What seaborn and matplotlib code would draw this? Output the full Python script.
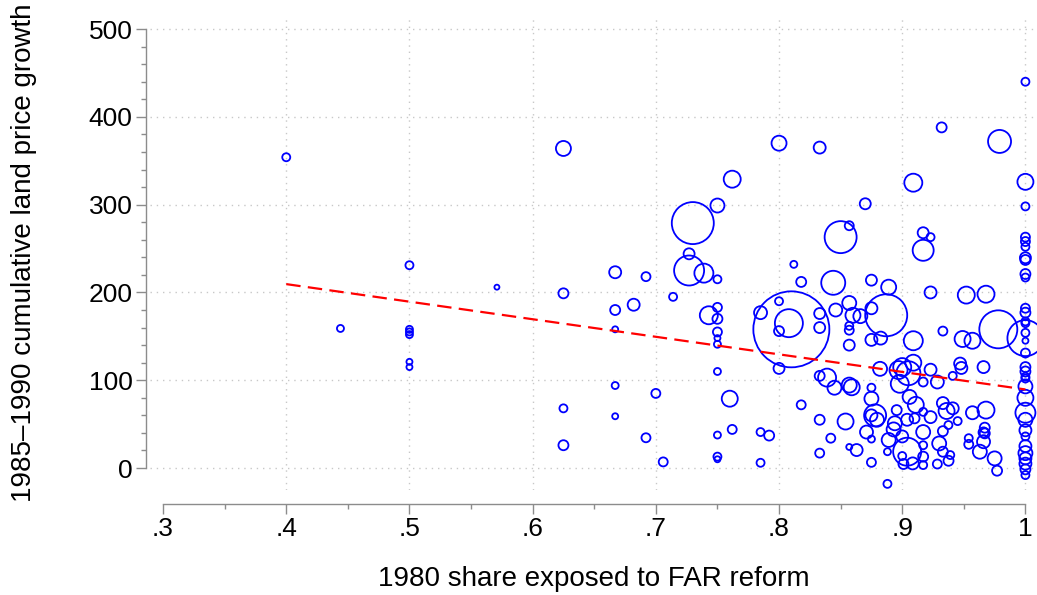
import numpy as np
import pandas as pd
import matplotlib
matplotlib.use("Agg")
import matplotlib.pyplot as plt
import seaborn as sns
from matplotlib.ticker import FixedLocator

# share exposed, land price growth, bubble radius (px) -> weight = radius^2
share = [0.400, 0.444, 0.500, 0.500, 0.500, 0.500, 0.500, 0.500, 0.571, 0.625, 0.625, 0.625, 0.625,
         0.667, 0.667, 0.667, 0.667, 0.667, 0.682, 0.692, 0.700, 0.692, 0.706, 0.714, 0.730, 0.727,
         0.727, 0.739, 0.750, 0.762, 0.750, 0.743, 0.750, 0.750, 0.750, 0.750, 0.750, 0.750, 0.750,
         0.750, 0.750, 0.760, 0.762, 0.785, 0.792, 0.785, 0.800, 0.833, 0.870, 0.850, 0.857, 0.812,
         0.818, 0.844, 0.875, 0.889, 0.887, 0.810, 0.808, 0.800, 0.785, 0.800, 0.833, 0.833, 0.800,
         0.846, 0.857, 0.860, 0.866, 0.857, 0.857, 0.857, 0.875, 0.875, 0.8825, 0.909, 0.933, 0.923,
         0.952, 0.968, 0.978, 0.949, 0.957, 0.909, 0.917, 0.923, 0.917, 0.979, 0.932,
         1, 1, 1, 1, 1, 1, 1, 1, 1, 1, 1, 1, 1, 1, 1, 1, 1, 1, 1, 1, 1, 1, 1, 1, 1, 1, 1, 1, 1, 1,
         1, 1, 1, 1,
         0.833, 0.839, 0.845, 0.857, 0.859, 0.818, 0.833, 0.854, 0.842, 0.833, 0.857, 0.863, 0.875,
         0.875, 0.882, 0.875, 0.878, 0.8795, 0.871, 0.875, 0.875, 0.889, 0.888, 0.888, 0.8955, 0.894,
         0.893, 0.897, 0.900, 0.905, 0.898, 0.909, 0.906, 0.911, 0.904, 0.910, 0.900, 0.904, 0.900,
         0.901, 0.9085, 0.917, 0.917, 0.917, 0.917, 0.917, 0.923, 0.9285, 0.917, 0.923, 0.933, 0.936,
         0.941, 0.933, 0.9375, 0.930, 0.933, 0.9376, 0.9285, 0.945, 0.941, 0.947, 0.948, 0.966, 0.957,
         0.968, 0.967, 0.967, 0.954, 0.954, 0.966, 0.966, 0.963, 0.975, 0.977, 0.939]

growth = [354, 159, 231, 158, 155, 152, 121, 115, 206, 364, 199, 68, 26,
          223, 180, 158, 94, 59, 186, 218, 85, 34.5, 7, 195, 279, 244,
          225, 222, 299, 329, 215, 174, 183, 170, 155, 148, 141, 110, 37.6,
          13, 10, 79, 44, 41, 37, 6, 370, 365, 301, 263, 276, 232,
          212, 211, 214, 206, 174, 158, 165, 190, 177, 156, 176, 160, 113.5,
          180, 188, 174, 173, 157, 162, 140, 182, 146, 148, 145, 156, 200,
          197, 198, 158, 147, 145, 325, 268, 263, 248, 372, 388,
          440, 326, 298, 263, 258, 252, 239.5, 237, 221, 217, 182, 177, 167, 165, 154, 145, 148, 131,
          115, 110, 104, 102, 93, 80, 63, 55, 43, 36, 25, 17, 11, 5, -1.5, -8,
          105, 103, 91.5, 94.5, 92, 72, 55, 53, 34, 17, 24, 20.5, 91.5,
          79, 113, 60, 60, 55, 41, 33, 6.5, 32, 18.6, -18, 66, 51,
          44, 111.6, 115, 108, 96, 120, 81, 72, 55, 56.6, 36, 18.6, 13.7,
          4.6, 5.3, 13, 3.4, 26, 41, 64, 112, 98, 98, 58, 74, 65,
          68, 42, 49, 28, 18.6, 8.3, 4.6, 53.5, 105, 119, 114, 115, 63,
          66, 46, 39.5, 34, 27, 40.6, 30, 18.6, 11, -3, 14.8]

radius = [4, 3.5, 4, 3.5, 3.5, 3.5, 3, 3, 2.5, 7.5, 5, 4, 5,
          6, 5, 3, 3.5, 3, 6, 4.5, 4.5, 4.5, 4.5, 4, 21, 5.5,
          15, 9.5, 7, 8.5, 4, 9, 4.5, 5, 4.5, 3, 3.5, 3.5, 3.5,
          4, 3, 8, 4.5, 4, 5, 4, 7.5, 6, 5.5, 16, 4.5, 3.5,
          5, 12, 5.5, 7.5, 21, 38, 14, 4, 6.5, 5, 5.5, 5.5, 5.5,
          6.5, 7, 7.5, 7, 4.5, 4, 5.5, 6, 6, 6.5, 9.5, 4.5, 6,
          8.5, 8.5, 19, 8, 8, 9, 5.5, 4, 10.5, 11.5, 5,
          4, 8, 4, 4.5, 4.5, 4, 5.5, 5, 5, 4, 4.5, 5, 4, 4, 4, 3, 18, 4.5,
          5, 5, 4, 4, 7, 8, 10, 7, 6, 4, 6, 7, 6, 6, 5, 4,
          5, 9, 7, 7.5, 8, 4.5, 5, 8, 4.5, 4.5, 3, 6, 4,
          7, 7, 6, 11, 7, 6.5, 3.5, 4.5, 7, 3.5, 4, 5, 7,
          7, 9, 9, 12, 9, 8, 7, 8, 6, 5, 6, 14, 4,
          5, 6, 5, 4, 4, 7, 4, 6, 6.5, 4.5, 6, 6, 8,
          6, 5, 4, 7, 5, 5, 4.5, 4, 4, 6, 6, 6, 6.5,
          8.5, 5, 5, 4, 4.5, 5, 6.5, 7, 7, 5, 4]

weight = [r * r for r in radius]

# fitted line endpoints
fit_share = [0.4, 1.0]
fit_growth = [209.5, 89.5]

x_ticks = [0.3, 0.4, 0.5, 0.6, 0.7, 0.8, 0.9, 1.0]
x_tick_labels = [".3", ".4", ".5", ".6", ".7", ".8", ".9", "1"]
x_minor = [0.35, 0.45, 0.55, 0.65, 0.75, 0.85, 0.95]
y_ticks = [0, 100, 200, 300, 400, 500]
y_minor = [20, 40, 60, 80, 120, 140, 160, 180, 220, 240, 260, 280, 320, 340, 360, 380,
           420, 440, 460, 480]

df = pd.DataFrame({"share": share, "growth": growth, "weight": weight})
fit = pd.DataFrame({"share": fit_share, "growth": fit_growth})

sns.set_theme(style="white")
plt.rcParams["font.family"] = ["Liberation Sans", "DejaVu Sans"]

DPI = 100
fig = plt.figure(figsize=(10.37, 5.95), dpi=DPI)
ax = fig.add_axes([150 / 1037, 1 - 490 / 595, 887 / 1037, 475 / 595])

wmax = max(weight)
px2pt = 72.0 / DPI
smax = (2 * np.sqrt(wmax) * px2pt) ** 2
sns.scatterplot(data=df, x="share", y="growth", size="weight", sizes=(0, smax),
                size_norm=(0, wmax), legend=False, ax=ax, marker="o", zorder=3)
pts = ax.collections[0]
pts.set_facecolor("none")
pts.set_edgecolor("#0000ff")
pts.set_linewidth(1.3)

sns.lineplot(data=fit, x="share", y="growth", ax=ax, color="#ff0000", linewidth=1.6,
             zorder=4)
ax.lines[-1].set_dashes((6.5, 3.3))

ax.set_xlim(0.2894, 1.0094)
ax.set_ylim(-25, 516)

ax.set_xticks(x_ticks)
ax.set_xticklabels(x_tick_labels)
ax.set_yticks(y_ticks)
ax.xaxis.set_minor_locator(FixedLocator(x_minor))
ax.yaxis.set_minor_locator(FixedLocator(y_minor))

for v in y_ticks:
    ax.axhline(v, color="#c8c8c8", linestyle=(0, (1, 3.5)), linewidth=1.0, zorder=1)
for v in x_ticks[1:]:
    ax.axvline(v, color="#c8c8c8", linestyle=(0, (1, 3.5)), linewidth=1.0, zorder=1)

for s in ["top", "right"]:
    ax.spines[s].set_visible(False)
ax.spines["left"].set_position(("outward", 3))
ax.spines["bottom"].set_position(("outward", 10))
ax.spines["left"].set_bounds(0, 500)
ax.spines["bottom"].set_bounds(0.3, 1.0)
for s in ["left", "bottom"]:
    ax.spines[s].set_color("#8c8c8c")
    ax.spines[s].set_linewidth(1.0)

ax.tick_params(axis="both", which="major", length=7, width=1.0, color="#8c8c8c",
               labelsize=19, labelcolor="black", pad=2.5, direction="out")
ax.tick_params(axis="both", which="minor", length=3.8, width=1.0, color="#8c8c8c",
               direction="out")
ax.tick_params(left=True, bottom=True, which="both")

ax.set_xlabel("1980 share exposed to FAR reform", fontsize=20, labelpad=18, color="black")
ax.set_ylabel("1985\u20131990 cumulative land price growth", fontsize=20, labelpad=37,
              color="black")

fig.savefig("out.png", dpi=DPI)
